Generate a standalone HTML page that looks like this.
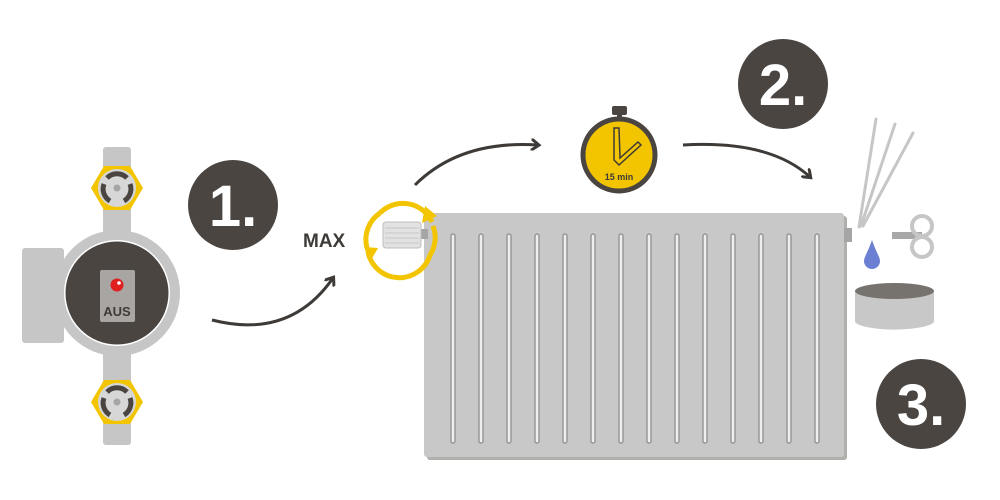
<!DOCTYPE html>
<html><head><style>
html,body{margin:0;padding:0;background:#fff;width:1000px;height:500px;overflow:hidden}
svg text{font-family:"Liberation Sans",sans-serif;font-weight:bold}
</style></head><body>
<svg width="1000" height="500" viewBox="0 0 1000 500" xmlns="http://www.w3.org/2000/svg">
<defs>
<marker id="ah" markerWidth="12" markerHeight="12" refX="7" refY="6" orient="auto" markerUnits="userSpaceOnUse">
<path d="M0,0 L8,6 L0,12" fill="none" stroke="#3d3a37" stroke-width="3"/>
</marker>
</defs>
<!-- pump -->
<rect x="22" y="248" width="42" height="95" rx="3" fill="#c6c6c6"/>
<rect x="103" y="147" width="28" height="298" rx="3" fill="#c6c6c6"/>
<circle cx="117" cy="293" r="63" fill="#c6c6c6"/>
<circle cx="117" cy="293" r="53" fill="#fff"/>
<circle cx="117" cy="293" r="51.5" fill="#4a4541"/>
<rect x="100" y="270" width="35" height="52" rx="2" fill="#a8a5a2"/>
<circle cx="117" cy="285" r="6.5" fill="#e02020"/>
<circle cx="119" cy="283" r="1.8" fill="#fff"/>
<text x="117" y="316" font-size="13" fill="#3e3a37" text-anchor="middle">AUS</text>
<g id="nut">
<polygon points="91,188 104,166 130,166 143,188 130,210 104,210" fill="#f2c500"/>
<circle cx="117" cy="188" r="19" fill="#d7d7d7"/>
<path d="M107,178 A14,14 0 0 1 127,178" stroke="#4a4541" stroke-width="5" fill="none"/>
<path d="M104,184 A14,14 0 0 0 110,201" stroke="#4a4541" stroke-width="5" fill="none"/>
<path d="M130,184 A14,14 0 0 1 124,201" stroke="#4a4541" stroke-width="5" fill="none"/>
<circle cx="117" cy="188" r="3.5" fill="#a5a5a5"/>
</g>
<use href="#nut" transform="translate(0,214)"/>
<!-- numbers -->
<circle cx="233" cy="205" r="45" fill="#4a4541"/>
<text x="233" y="226" font-size="58" fill="#fff" text-anchor="middle">1.</text>
<circle cx="783" cy="84" r="45" fill="#4a4541"/>
<text x="783" y="105" font-size="58" fill="#fff" text-anchor="middle">2.</text>
<circle cx="921" cy="404" r="45" fill="#4a4541"/>
<text x="921" y="425" font-size="58" fill="#fff" text-anchor="middle">3.</text>
<!-- arrows -->
<path d="M212,320 Q290,340 333,278" fill="none" stroke="#3d3a37" stroke-width="3" marker-end="url(#ah)"/>
<path d="M415,185 Q460,140 538,145" fill="none" stroke="#3d3a37" stroke-width="3" marker-end="url(#ah)"/>
<path d="M683,145 Q770,140 810,177" fill="none" stroke="#3d3a37" stroke-width="3" marker-end="url(#ah)"/>
<text x="303" y="247" font-size="19" fill="#3e3a37">MAX</text>
<!-- radiator -->
<rect x="427" y="216" width="420" height="244" rx="3" fill="#b2b0ad"/>
<rect x="424" y="213" width="420" height="244" rx="3" fill="#c8c8c8"/>
<rect x="844" y="228" width="8" height="14" fill="#a5a5a5"/>
<g fill="#eee" stroke="#9a9895" stroke-width="1.5">
<rect x="451" y="234" width="4" height="209" rx="2"/>
<rect x="479" y="234" width="4" height="209" rx="2"/>
<rect x="507" y="234" width="4" height="209" rx="2"/>
<rect x="535" y="234" width="4" height="209" rx="2"/>
<rect x="563" y="234" width="4" height="209" rx="2"/>
<rect x="591" y="234" width="4" height="209" rx="2"/>
<rect x="619" y="234" width="4" height="209" rx="2"/>
<rect x="647" y="234" width="4" height="209" rx="2"/>
<rect x="675" y="234" width="4" height="209" rx="2"/>
<rect x="703" y="234" width="4" height="209" rx="2"/>
<rect x="731" y="234" width="4" height="209" rx="2"/>
<rect x="759" y="234" width="4" height="209" rx="2"/>
<rect x="787" y="234" width="4" height="209" rx="2"/>
<rect x="815" y="234" width="4" height="209" rx="2"/>
</g>
<!-- thermostat -->
<rect x="420" y="229" width="8" height="10" fill="#a5a5a5"/>
<rect x="383" y="222" width="38" height="26" rx="3" fill="#e2e2e2" stroke="#bdbdbd"/>
<g stroke="#c5c5c5" stroke-width="1"><line x1="385" y1="228" x2="419" y2="228"/><line x1="385" y1="233" x2="419" y2="233"/><line x1="385" y1="238" x2="419" y2="238"/><line x1="385" y1="243" x2="419" y2="243"/></g>
<path d="M432,222 A32,32 0 0 0 380,213" fill="none" stroke="#f2c500" stroke-width="5"/>
<path d="M368,252 A32,32 0 0 0 430,255" fill="none" stroke="#f2c500" stroke-width="5"/>
<polygon points="425,206 437,216 422,223" fill="#f2c500"/>
<polygon points="378,248 370,262 364,247" fill="#f2c500"/>
<path d="M380,213 A32,32 0 0 0 367,248" fill="none" stroke="#f2c500" stroke-width="5"/>
<path d="M430,255 A32,32 0 0 0 433,226" fill="none" stroke="#f2c500" stroke-width="5"/>
<!-- stopwatch -->
<rect x="612" y="106" width="15" height="9" rx="2" fill="#4a4541"/>
<rect x="617" y="112" width="5" height="8" fill="#4a4541"/>
<circle cx="619" cy="155" r="36" fill="#f2c500" stroke="#4a4541" stroke-width="5"/>
<path d="M614,128 L619,128 L620,158 L638,142 L641,145 L619,165 L614,160 Z" fill="#f2c500" stroke="#3e3a37" stroke-width="1.5"/>
<text x="619" y="180" font-size="9" fill="#3e3a37" text-anchor="middle">15 min</text>
<!-- air lines, drop, key, bowl -->
<g stroke="#c6c6c6" stroke-width="3" stroke-linecap="round">
<line x1="859" y1="227" x2="876" y2="119"/>
<line x1="861" y1="226" x2="895" y2="124"/>
<line x1="863" y1="226" x2="913" y2="133"/>
</g>
<path d="M872,240 C868,252 864,257 864,261 A8,8 0 0 0 880,261 C880,257 876,252 872,240 Z" fill="#6b7fd3"/>
<rect x="892" y="232" width="30" height="7" fill="#a8a8a8"/>
<circle cx="922" cy="226" r="10" fill="none" stroke="#c6c6c6" stroke-width="4"/>
<circle cx="922" cy="247" r="10" fill="none" stroke="#c6c6c6" stroke-width="4"/>
<path d="M855,291 L855,322 A40,9 0 0 0 934,322 L934,291 Z" fill="#c8c8c8"/>
<ellipse cx="894.5" cy="291" rx="39.5" ry="8" fill="#76736f"/>
</svg>
</body></html>
